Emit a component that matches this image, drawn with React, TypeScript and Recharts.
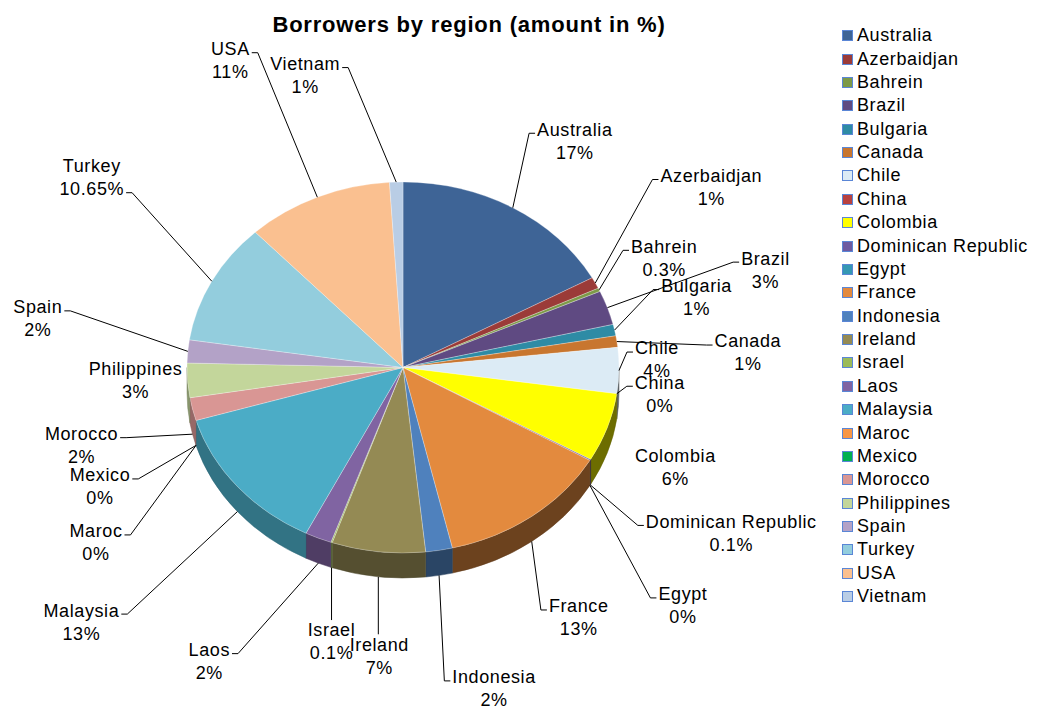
import React from "react";
import { PieChart, Pie, Cell, Legend } from "recharts";

// Borrowers by region, amount in %
const regions = [
  "Australia", "Azerbaidjan", "Bahrein", "Brazil", "Bulgaria", "Canada", "Chile", "China",
  "Colombia", "Dominican Republic", "Egypt", "France", "Indonesia", "Ireland", "Israel", "Laos",
  "Malaysia", "Maroc", "Mexico", "Morocco", "Philippines", "Spain", "Turkey", "USA", "Vietnam",
];
const shares = [
  17, 1, 0.3, 3, 1, 1, 4, 0,
  6, 0.1, 0, 13, 2, 7, 0.1, 2,
  13, 0, 0, 2, 3, 2, 10.65, 11, 1,
];
const colors = [
  "#3E6496", "#9B3B38", "#7D9A48", "#5F4A82", "#2E8BA5", "#C8762F", "#DCEBF5", "#B8413F",
  "#FFFF00", "#6D5AA0", "#3598B4", "#E38A3E", "#4F81BD", "#948A54", "#9BBB59", "#8064A2",
  "#4BACC6", "#F79646", "#00B050", "#D99694", "#C3D69B", "#B3A2C7", "#93CDDD", "#FAC090", "#B9CDE5",
];

// hand placed label offsets from the slice anchor (like dragged labels in the original)
const labelOffsets: [number, number][] = [
  [62, -67], [116, -96], [65, -32], [158, -38], [82, -33], [131, 11], [38, -11], [43, 0],
  [68, 14], [141, 48], [93, 120], [47, 76], [55, 113], [1, 79], [0, 74], [-109, 98],
  [-156, 110], [-100, 97], [-96, 41], [-111, 11], [-52, 0], [-150, -33], [-120, -104], [-87, -137], [-91, -107],
];
const hideLeader = new Set(["Colombia", "Philippines"]);

const data = regions.map((name, i) => ({ name, value: shares[i] }));

const FONT = '"Liberation Sans", Arial, sans-serif';
const FS = 18;
const LS = 0.6;
const LH = 23;
const TILT = 185.5 / 216;
const DEPTH = 25;
const RAD = Math.PI / 180;

let ctx: CanvasRenderingContext2D | null = null;
function textWidth(t: string) {
  if (!ctx) ctx = document.createElement("canvas").getContext("2d");
  if (!ctx) return t.length * FS * 0.55;
  ctx.font = `${FS}px ${FONT}`;
  return ctx.measureText(t).width + LS * t.length;
}

function shade(hex: string, f: number) {
  const n = parseInt(hex.slice(1), 16);
  const r = Math.round(((n >> 16) & 255) * f);
  const g = Math.round(((n >> 8) & 255) * f);
  const b = Math.round((n & 255) * f);
  return `rgb(${r},${g},${b})`;
}

// elliptical 3D slice drawn from the angles the Pie computed
const renderSlice = (p: any) => {
  const { cx, cy, outerRadius, startAngle, endAngle, midAngle, index } = p;
  const rx = outerRadius;
  const ry = outerRadius * TILT;
  const s = Math.max(startAngle, endAngle);
  const e = Math.min(startAngle, endAngle);
  if (s - e < 1e-6) return <g key={`s${index}`} />;
  const pt = (a: number, dy = 0) => `${cx + rx * Math.cos(a * RAD)},${cy - ry * Math.sin(a * RAD) + dy}`;
  const large = s - e > 180 ? 1 : 0;
  const top = `M${cx},${cy}L${pt(s)}A${rx},${ry} 0 ${large} 1 ${pt(e)}Z`;
  let side = null;
  const hi = Math.min(s, 0);
  const lo = Math.max(e, -180);
  if (hi > lo) {
    const d = `M${pt(hi)}A${rx},${ry} 0 0 1 ${pt(lo)}L${pt(lo, DEPTH)}A${rx},${ry} 0 0 0 ${pt(hi, DEPTH)}Z`;
    const f = 0.56 - 0.14 * Math.cos(midAngle * RAD);
    side = <path d={d} fill={shade(colors[index], f)} stroke={shade(colors[index], f * 0.9)} strokeWidth={0.5} />;
  }
  return (
    <g key={`s${index}`}>
      {side}
      <path d={top} fill={colors[index]} stroke="#ffffff" strokeOpacity={0.35} strokeWidth={0.8} />
    </g>
  );
};

const renderLabel = (p: any) => {
  const { cx, cy, outerRadius, midAngle, index } = p;
  const rx = outerRadius;
  const ry = outerRadius * TILT;
  const sn = Math.sin(midAngle * RAD);
  const ax = cx + rx * Math.cos(midAngle * RAD);
  let ay = cy - ry * sn;
  if (sn < -0.18) ay += DEPTH;
  const [dx, dy] = labelOffsets[index];
  const lx = ax + dx;
  const ly = ay + dy;
  const lines = [regions[index], `${shares[index]}%`];
  const w = lines.map(textWidth);
  const k = w[0] >= w[1] ? 0 : 1;
  const yAtt = ly + (k === 0 ? -LH / 2 : LH / 2) + 4;
  const hw = w[k] / 2;
  const boxHw = Math.max(w[0], w[1]) / 2;
  let d = "";
  if (!hideLeader.has(regions[index])) {
    if (Math.abs(ax - lx) < boxHw && ay < ly) d = `M${ax},${ay}L${ax},${ly - LH / 2 - 10}`;
    else if (ax < lx) d = `M${ax},${ay}L${lx - hw - 8},${yAtt}L${lx - hw - 2},${yAtt}`;
    else d = `M${ax},${ay}L${lx + hw + 8},${yAtt}L${lx + hw + 2},${yAtt}`;
  }
  return (
    <g key={`l${index}`}>
      {d && <path d={d} stroke="#000" strokeWidth={1} fill="none" />}
      <text textAnchor="middle" fontFamily={FONT} fontSize={FS} letterSpacing={LS} fill="#000">
        <tspan x={lx} y={ly - LH / 2 + 6.4}>{lines[0]}</tspan>
        <tspan x={lx} y={ly + LH / 2 + 6.4}>{lines[1]}</tspan>
      </text>
    </g>
  );
};

const renderLegend = (props: any) => {
  const seen = new Set<string>();
  const items = (props.payload || []).filter((it: any) => {
    if (seen.has(it.value)) return false;
    seen.add(it.value);
    return true;
  });
  return (
    <div style={{ fontFamily: FONT, fontSize: FS, letterSpacing: LS, color: "#000" }}>
      {items.map((it: any) => (
        <div key={it.value} style={{ height: 23.375, display: "flex", alignItems: "center", whiteSpace: "nowrap" }}>
          <span
            style={{
              width: 11,
              height: 11,
              boxSizing: "border-box",
              background: colors[regions.indexOf(it.value)],
              border: "1px solid #5A86D6",
              marginRight: 4,
              display: "inline-block",
            }}
          />
          {it.value}
        </div>
      ))}
    </div>
  );
};

export default function App() {
  return (
    <div style={{ position: "absolute", left: 0, top: 0, width: 1038, height: 710, background: "#fff" }}>
      <div
        style={{
          position: "absolute",
          left: 169,
          top: 12,
          width: 600,
          textAlign: "center",
          fontFamily: FONT,
          fontWeight: "bold",
          fontSize: 22,
          letterSpacing: 0.8,
          lineHeight: "26px",
          zIndex: 2,
        }}
      >
        Borrowers by region (amount in %)
      </div>
      <PieChart width={1038} height={710} margin={{ top: 0, right: 0, bottom: 0, left: 0 }}>
        <Pie
          data={data}
          dataKey="value"
          nameKey="name"
          cx={403}
          cy={367.5}
          outerRadius={216}
          startAngle={90}
          endAngle={-270}
          stroke="none"
          label={renderSlice}
          labelLine={false}
          isAnimationActive={false}
        >
          {data.map((d, i) => (
            <Cell key={d.name} fill={colors[i]} fillOpacity={0} />
          ))}
        </Pie>
        <Pie
          data={data}
          dataKey="value"
          nameKey="name"
          cx={403}
          cy={367.5}
          outerRadius={216}
          startAngle={90}
          endAngle={-270}
          stroke="none"
          fill="transparent"
          fillOpacity={0}
          legendType="none"
          label={renderLabel}
          labelLine={false}
          isAnimationActive={false}
        />
        <Legend
          layout="vertical"
          align="right"
          verticalAlign="top"
          content={renderLegend}
          wrapperStyle={{ left: 842, top: 24, width: 196 }}
        />
      </PieChart>
    </div>
  );
}
